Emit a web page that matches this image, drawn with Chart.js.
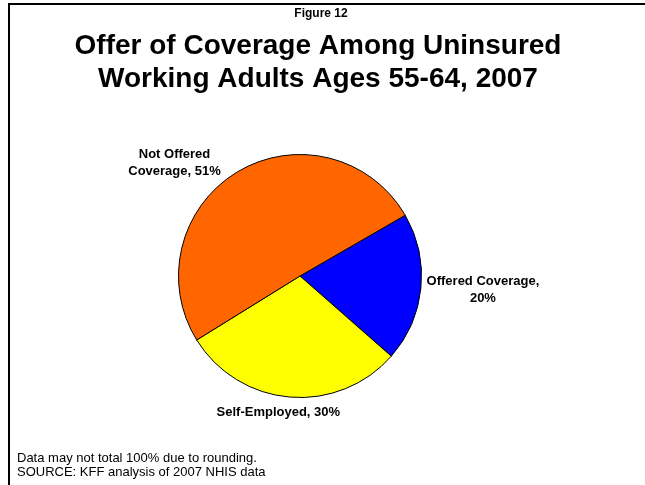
<!DOCTYPE html>
<html>
<head>
<meta charset="utf-8">
<title>Offer of Coverage Among Uninsured Working Adults Ages 55-64, 2007</title>
<script src="https://cdn.jsdelivr.net/npm/chart.js@4.4.1/dist/chart.umd.min.js"></script>
<style>
  html, body { margin: 0; padding: 0; background: #fff; }
  #wrap { position: relative; width: 645px; height: 485px; }
</style>
</head>
<body>
<div id="wrap"><canvas id="cov-chart" width="645" height="485"></canvas></div>
<script>
// offer of coverage, uninsured workers 55-64 (shares in %)
const sliceNames = ["Offered Coverage", "Self-Employed", "Not Offered Coverage"];
const sliceValues = [20, 30, 51];
const sliceColors = ["#0000FF", "#FFFF00", "#FF6600"];
const sliceLabels = [["Offered Coverage,", "20%"], ["Self-Employed, 30%"], ["Not Offered", "Coverage, 51%"]];

const FONT = "'Liberation Sans', Arial, Helvetica, sans-serif";

// where each label sits around the pie: screen angle (deg) and distance in radii
const labelSpots = [
  { angle: 4.4, dist: 1.51 },
  { angle: 99, dist: 1.14 },
  { angle: -138, dist: 1.39 },
];

const slideText = {
  id: "slideText",
  afterDraw(chart) {
    const c = chart.ctx;
    c.save();

    // slide frame (top + left edge)
    c.fillStyle = "#000";
    c.fillRect(8, 3, 645 - 8, 2);
    c.fillRect(8, 3, 2, 485 - 3);

    c.textAlign = "center";
    c.textBaseline = "middle";
    c.font = "bold 12px " + FONT;
    c.fillText("Figure 12", 321, 14);

    c.font = "bold 28px " + FONT;
    c.fillText("Offer of Coverage Among Uninsured", 318, 46);
    c.fillText("Working Adults Ages 55-64, 2007", 318, 79);

    // slice labels
    const meta = chart.getDatasetMeta(0);
    c.font = "bold 13px " + FONT;
    meta.data.forEach((arc, i) => {
      const spot = labelSpots[i];
      const a = spot.angle * Math.PI / 180;
      const x = arc.x + Math.cos(a) * arc.outerRadius * spot.dist;
      const y = arc.y + Math.sin(a) * arc.outerRadius * spot.dist;
      const lines = sliceLabels[i];
      const lh = 17;
      lines.forEach((t, j) => {
        c.fillText(t, x, y + (j - (lines.length - 1) / 2) * lh);
      });
    });

    // footnotes
    c.textAlign = "left";
    c.font = "13px " + FONT;
    c.fillText("Data may not total 100% due to rounding.", 17, 458);
    c.fillText("SOURCE: KFF analysis of 2007 NHIS data", 17, 472);

    c.restore();
  },
};

new Chart(document.getElementById("cov-chart"), {
  type: "pie",
  data: {
    labels: sliceNames,
    datasets: [{
      data: sliceValues,
      backgroundColor: sliceColors,
      borderColor: "#000",
      borderWidth: 1,
      hoverOffset: 0,
      offset: 0,
    }],
  },
  options: {
    responsive: false,
    animation: false,
    rotation: 60,
    layout: { padding: { top: 154, bottom: 87, left: 100, right: 145 } },
    plugins: {
      legend: { display: false },
      title: { display: false },
      tooltip: { enabled: false },
    },
  },
  plugins: [slideText],
});
</script>
</body>
</html>
